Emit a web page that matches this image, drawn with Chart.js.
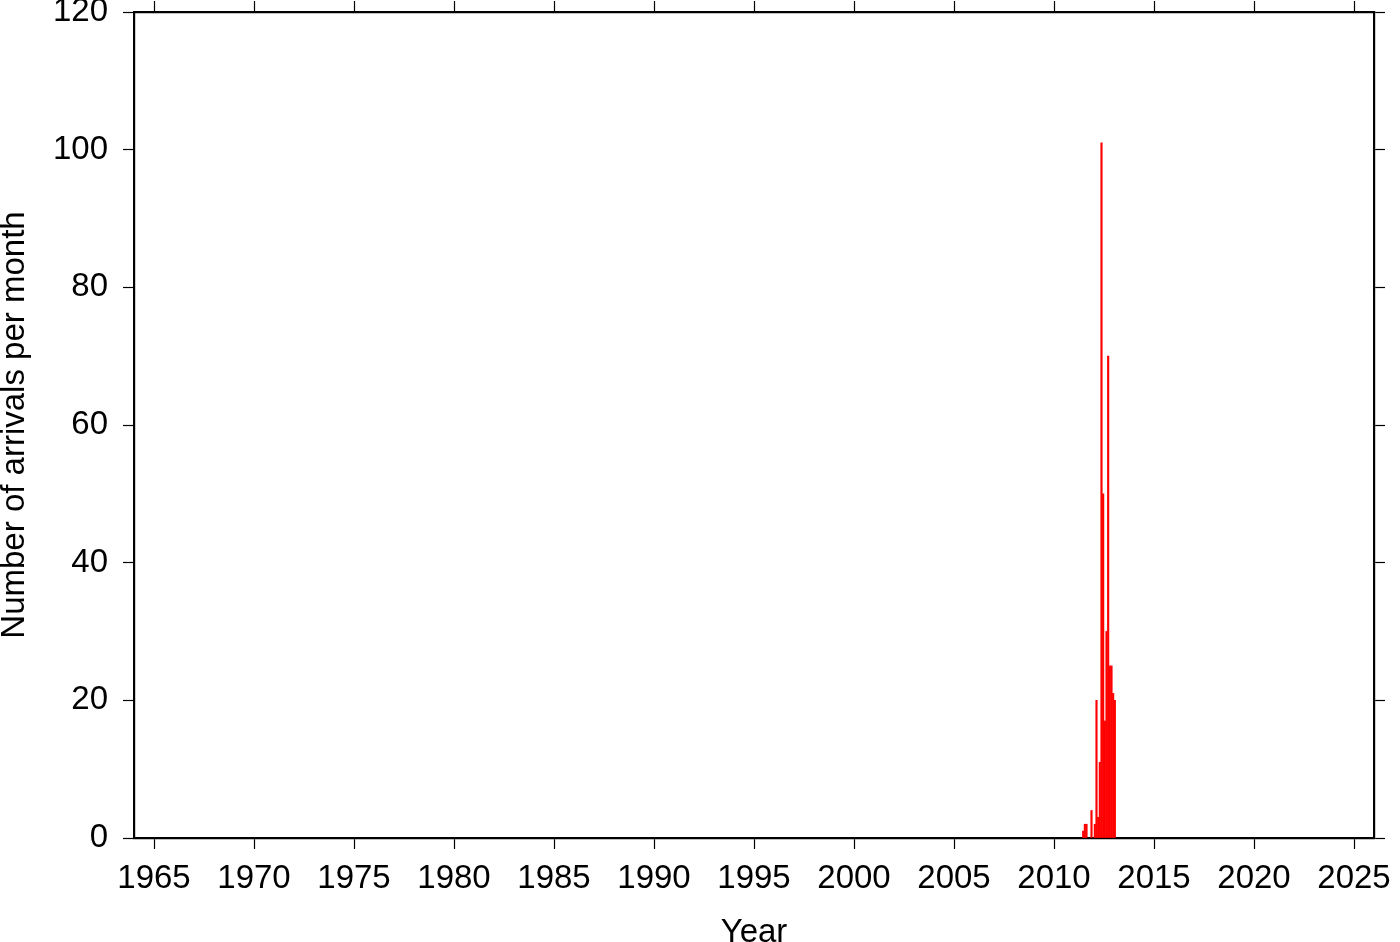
<!DOCTYPE html>
<html>
<head>
<meta charset="utf-8">
<script src="https://cdn.jsdelivr.net/npm/chart.js@4.4.1/dist/chart.umd.min.js"></script>
<style>
html,body{margin:0;padding:0;background:#fff;}
#wrap{width:1400px;height:942px;}
</style>
</head>
<body>
<div id="wrap"><canvas id="c" width="1400" height="942"></canvas></div>
<script>
// Months (YYYY-MM) with arrivals, and the number of arrivals in each month
const months = ["2011-06","2011-07","2011-08","2011-11","2012-01","2012-02","2012-03","2012-04","2012-05","2012-06","2012-07","2012-08","2012-09","2012-10","2012-11","2012-12","2013-01"];
const arrivals = [1,2,2,4,2,20,3,11,101,50,17,30,70,25,25,21,20];
const xTicks = [1965,1970,1975,1980,1985,1990,1995,2000,2005,2010,2015,2020,2025];
const yTicks = [0,20,40,60,80,100,120];
const xRange = [1964, 2026];
const yRange = [0, 120];

const points = months.map((m, i) => {
  const [yr, mo] = m.split('-').map(Number);
  return { x: yr + (mo - 0.5) / 12, y: arrivals[i] };
});

const FAMILY = "'Liberation Sans', Arial, Helvetica, sans-serif";
const TICKFONT = { family: FAMILY, size: 33 };
const TITLEFONT = { family: FAMILY, size: 33, lineHeight: 1 };
const setTicks = (list) => (scale) => { scale.ticks = list.map(v => ({ value: v })); };
const gridOpts = { drawOnChartArea: false, drawTicks: true, offset: false, tickLength: 11, tickWidth: 1.2, tickColor: '#000' };
const borderOpts = { display: true, width: 2.2, color: '#000' };
const noPad = (s) => { s.paddingTop = 0; s.paddingBottom = 0; s.paddingLeft = 0; s.paddingRight = 0; };

new Chart(document.getElementById('c'), {
  type: 'bar',
  data: {
    datasets: [{
      data: points,
      backgroundColor: '#ff0000',
      borderWidth: 0,
      barThickness: 1.5,
      xAxisID: 'x',
      yAxisID: 'y'
    }]
  },
  options: {
    responsive: false,
    animation: false,
    plugins: { legend: { display: false }, tooltip: { enabled: false } },
    layout: { padding: 0 },
    scales: {
      x: {
        type: 'linear', position: 'bottom', min: xRange[0], max: xRange[1], offset: false,
        afterBuildTicks: setTicks(xTicks),
        afterFit: (s) => { s.height = 104; noPad(s); },
        grid: gridOpts, border: borderOpts,
        ticks: { color: '#000', font: TICKFONT, padding: 10, maxRotation: 0, autoSkip: false, callback: v => String(v) },
        title: { display: true, text: 'Year', color: '#000', font: TITLEFONT, padding: { top: 0, bottom: -7 } }
      },
      x2: {
        type: 'linear', position: 'top', min: xRange[0], max: xRange[1], offset: false,
        afterBuildTicks: setTicks(xTicks),
        afterFit: (s) => { s.height = 12; noPad(s); },
        grid: gridOpts, border: borderOpts,
        ticks: { display: false }
      },
      y: {
        type: 'linear', position: 'left', min: yRange[0], max: yRange[1],
        afterBuildTicks: setTicks(yTicks),
        afterFit: (s) => { s.width = 134; noPad(s); },
        grid: gridOpts, border: borderOpts,
        ticks: { color: '#000', font: TICKFONT, padding: 15, callback: v => String(v) },
        title: { display: true, text: 'Number of arrivals per month', color: '#000', font: TITLEFONT, padding: { top: -2, bottom: 0 } }
      },
      y2: {
        type: 'linear', position: 'right', min: yRange[0], max: yRange[1],
        afterBuildTicks: setTicks(yTicks),
        afterFit: (s) => { s.width = 26; noPad(s); },
        grid: gridOpts, border: borderOpts,
        ticks: { display: false }
      }
    }
  }
});
</script>
</body>
</html>
